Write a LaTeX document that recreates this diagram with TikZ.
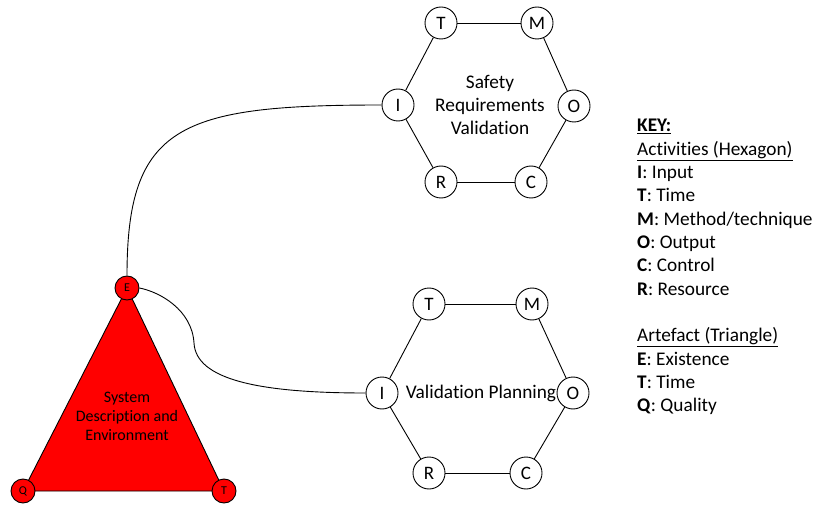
\documentclass[tikz,border=0pt]{standalone}
\usepackage{fontspec}
\setmainfont{Carlito}[Ligatures=NoCommon]
\begin{document}
\begin{tikzpicture}[x=1pt,y=-1pt,
  edge/.style={draw=black,line width=0.9pt},
  act/.style={circle,draw=black,fill=white,line width=0.9pt,minimum size=32pt,inner sep=0pt,font=\fontsize{19}{23}\selectfont},
  art/.style={circle,draw=black,fill=red,line width=0.9pt,minimum size=24pt,inner sep=0pt,font=\fontsize{12}{14}\selectfont},
  keytext/.style={anchor=base west,inner sep=0pt,font=\fontsize{19.3}{23}\selectfont},
  hexlabel/.style={align=center,inner sep=0pt,font=\fontsize{19.3}{23.3}\selectfont},
]
\useasboundingbox (0,0) rectangle (814,505);

% ---- triangle artefact ----
\coordinate (ep) at (127,288);
\coordinate (qp) at (23,491);
\coordinate (tp) at (224,491);
\filldraw[fill=red,draw=black,line width=0.9pt] (ep) -- (qp) -- (tp) -- cycle;
\node[hexlabel,font=\fontsize{16}{19}\selectfont] (sysname) at (127,416) {System\\Description and\\Environment};
\node[art] (E) at (ep) {E};
\node[art] (Q) at (qp) {Q};
\node[art] (TT) at (tp) {T};

% ---- top hexagon ----
\node[act] (T1) at (441,23) {T};
\node[act] (M1) at (537,23) {M};
\node[act] (I1) at (398,105) {I};
\node[act] (O1) at (574,106) {O};
\node[act] (R1) at (441,182) {R};
\node[act] (C1) at (531,182) {C};
\draw[edge] (T1) -- (M1);
\draw[edge] (M1) -- (O1);
\draw[edge] (O1) -- (C1);
\draw[edge] (C1) -- (R1);
\draw[edge] (R1) -- (I1);
\draw[edge] (I1) -- (T1);
\node[hexlabel] (srv) at (490,105) {Safety\\Requirements\\Validation};

% ---- bottom hexagon ----
\node[act] (T2) at (429,304) {T};
\node[act] (M2) at (532,304) {M};
\node[act] (I2) at (382,393) {I};
\node[act] (O2) at (573,393) {O};
\node[act] (R2) at (429,473) {R};
\node[act] (C2) at (526,473) {C};
\draw[edge] (T2) -- (M2);
\draw[edge] (M2) -- (O2);
\draw[edge] (O2) -- (C2);
\draw[edge] (C2) -- (R2);
\draw[edge] (R2) -- (I2);
\draw[edge] (I2) -- (T2);
\node[hexlabel] (vp) at (481,393) {Validation Planning};

% ---- connectors ----
\draw[edge] (I1.west) .. controls (180,105) and (127,125) .. (E.north);
\coordinate (bend) at (194,343);
\draw[edge] (E.east) .. controls (160,292) and (192,310) .. (bend)
  .. controls (196,380) and (260,393) .. (I2.west);

% ---- key ----
\node[keytext] (k0) at (637,132) {\underline{\textbf{KEY:}}};
\node[keytext] (k1) at (637,155.3) {\underline{Activities (Hexagon)}};
\node[keytext] (k2) at (637,178.6) {\textbf{I}: Input};
\node[keytext] (k3) at (637,201.9) {\textbf{T}: Time};
\node[keytext] (k4) at (637,225.2) {\textbf{M}: Method/technique};
\node[keytext] (k5) at (637,248.5) {\textbf{O}: Output};
\node[keytext] (k6) at (637,271.8) {\textbf{C}: Control};
\node[keytext] (k7) at (637,295.1) {\textbf{R}: Resource};
\node[keytext] (k8) at (637,341.7) {\underline{Artefact (Triangle)}};
\node[keytext] (k9) at (637,365) {\textbf{E}: Existence};
\node[keytext] (k10) at (637,388.3) {\textbf{T}: Time};
\node[keytext] (k11) at (637,411.6) {\textbf{Q}: Quality};
\end{tikzpicture}
\end{document}
